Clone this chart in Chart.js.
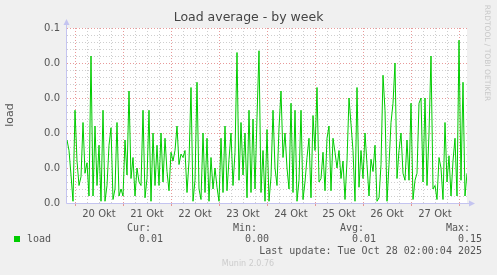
<!DOCTYPE html>
<html>
<head>
<meta charset="utf-8">
<script src="https://cdn.jsdelivr.net/npm/chart.js@4.4.1/dist/chart.umd.min.js"></script>
<style>
  html, body { margin: 0; padding: 0; background: #f0f0f0; }
  #wrap { width: 497px; height: 275px; }
</style>
</head>
<body>
<div id="wrap"><canvas id="load"></canvas></div>
<script>
    "use strict";

    // hours since Sun Oct 19 20:00, one reading per hour
    var loadValues = [
        0.0180, 0.0150, 0.0080, 0.0005, 0.0265, 0.0120, 0.0050, 0.0075, 0.0230, 0.0085,
        0.0115, 0.0020, 0.0420, 0.0020, 0.0220, 0.0050, 0.0165, 0.0005, 0.0265, 0.0005,
        0.0050, 0.0165, 0.0215, 0.0010, 0.0040, 0.0230, 0.0020, 0.0040, 0.0020, 0.0180,
        0.0080, 0.0320, 0.0070, 0.0130, 0.0020, 0.0100, 0.0060, 0.0050, 0.0265, 0.0015,
        0.0070, 0.0265, 0.0005, 0.0200, 0.0050, 0.0165, 0.0050, 0.0200, 0.0060, 0.0185,
        0.0090,
        0.0035, 0.0145, 0.0120, 0.0150, 0.0220, 0.0110, 0.0140, 0.0130, 0.0150,
        0.0030, 0.0120, 0.0330, 0.0005, 0.0065, 0.0345, 0.0040, 0.0010, 0.0200, 0.0030,
        0.0185, 0.0005, 0.0130, 0.0040, 0.0100, 0.0045, 0.0005, 0.0185, 0.0030, 0.0220,
        0.0035, 0.0125, 0.0200, 0.0050, 0.0145, 0.0430, 0.0065, 0.0230, 0.0080, 0.0200,
        0.0015, 0.0265, 0.0030, 0.0240, 0.0040, 0.0245, 0.0435, 0.0030, 0.0150, 0.0005,
        0.0210,
        0.0005, 0.0075, 0.0265, 0.0100, 0.0050, 0.0215, 0.0320, 0.0130, 0.0200,
        0.0100, 0.0040, 0.0285, 0.0030, 0.0265, 0.0005, 0.0065, 0.0265, 0.0010, 0.0060,
        0.0130, 0.0185, 0.0015, 0.0250, 0.0150, 0.0330, 0.0060, 0.0070, 0.0145, 0.0035,
        0.0185, 0.0220, 0.0035, 0.0185, 0.0145, 0.0100, 0.0150, 0.0070, 0.0120, 0.0010,
        0.0120, 0.0300, 0.0225, 0.0150, 0.0005, 0.0330, 0.0045, 0.0150, 0.0070, 0.0200,
        0.0110,
        0.0020, 0.0125, 0.0090, 0.0165, 0.0005, 0.0015, 0.0110, 0.0365, 0.0265,
        0.0005, 0.0110, 0.0230, 0.0285, 0.0400, 0.0070, 0.0150, 0.0200, 0.0085, 0.0065,
        0.0180, 0.0065, 0.0285, 0.0010, 0.0065, 0.0085, 0.0285, 0.0300, 0.0060, 0.0300,
        0.0050, 0.0200, 0.0420, 0.0040, 0.0050, 0.0010, 0.0130, 0.0100, 0.0010, 0.0230,
        0.0060, 0.0135, 0.0020, 0.0120, 0.0185, 0.0020, 0.0465, 0.0065, 0.0345, 0.0020,
        0.0085
    ];

    var dayLabels = ["20 Okt", "21 Okt", "22 Okt", "23 Okt", "24 Okt", "25 Okt", "26 Okt", "27 Okt"];
    var firstMidnight = 4;      // Oct 20 00:00, in hours from the start
    var spanHours = 200;
    var yMax = 0.05;
    var yMinorStep = 0.002;
    var yMajorEvery = 5;

    var legendName = "load";
    var legendCur = "0.01";
    var legendMin = "0.00";
    var legendAvg = "0.01";
    var legendMax = "0.15";
    var lastUpdate = "Last update: Tue Oct 28 02:00:04 2025";

    var LINE = "#00cc00";
    var MAJOR = "rgba(224, 120, 120, 0.75)";
    var MINOR = "rgba(190, 190, 190, 0.75)";
    var AXIS = "#c4c4f0";
    var TEXT = "#555555";
    var SANS = "'DejaVu Sans', sans-serif";
    var MONO = "'DejaVu Sans Mono', monospace";

    var points = loadValues.map(function(v, i) {
        return { x: i, y: v };
    });

    function isMidnight(h) {
        return ((h - firstMidnight) % 24 + 24) % 24 === 0;
    }

    var muninFrame = {
        id: "muninFrame",
        beforeDraw: function(chart) {
            var ctx = chart.ctx, a = chart.chartArea;
            ctx.save();
            ctx.fillStyle = "#f0f0f0";
            ctx.fillRect(0, 0, chart.width, chart.height);
            ctx.fillStyle = "#ffffff";
            ctx.fillRect(a.left, a.top, a.right - a.left, a.bottom - a.top);
            ctx.restore();
        },
        afterDraw: function(chart) {
            var ctx = chart.ctx, a = chart.chartArea;
            ctx.save();

            // axes with arrows
            ctx.strokeStyle = AXIS;
            ctx.fillStyle = AXIS;
            ctx.lineWidth = 1;
            ctx.beginPath();
            ctx.moveTo(a.left - 0.5, a.bottom + 0.5);
            ctx.lineTo(a.left - 0.5, a.top - 4);
            ctx.moveTo(a.left - 0.5, a.bottom + 0.5);
            ctx.lineTo(a.right + 4, a.bottom + 0.5);
            ctx.stroke();
            ctx.beginPath();
            ctx.moveTo(a.left - 0.5, a.top - 9);
            ctx.lineTo(a.left - 3.5, a.top - 3);
            ctx.lineTo(a.left + 2.5, a.top - 3);
            ctx.closePath();
            ctx.fill();
            ctx.beginPath();
            ctx.moveTo(a.right + 8, a.bottom + 0.5);
            ctx.lineTo(a.right + 2, a.bottom - 2.5);
            ctx.lineTo(a.right + 2, a.bottom + 3.5);
            ctx.closePath();
            ctx.fill();

            // title
            ctx.fillStyle = "#444444";
            ctx.font = "12.5px " + SANS;
            ctx.textAlign = "center";
            ctx.textBaseline = "middle";
            ctx.fillText("Load average - by week", chart.width / 2, 18);

            // y axis title
            ctx.save();
            ctx.translate(10.5, 115);
            ctx.rotate(-Math.PI / 2);
            ctx.fillStyle = TEXT;
            ctx.font = "11px " + SANS;
            ctx.fillText("load", 0, 0);
            ctx.restore();

            // watermark on the right
            ctx.save();
            ctx.translate(487, 53);
            ctx.rotate(Math.PI / 2);
            ctx.fillStyle = "#c8c8c8";
            ctx.font = "7.5px " + SANS;
            ctx.fillText("RRDTOOL / TOBI OETIKER", 0, 0);
            ctx.restore();

            // legend
            ctx.fillStyle = LINE;
            ctx.fillRect(14, 236, 6, 6);
            ctx.fillStyle = TEXT;
            ctx.font = "10px " + MONO;
            ctx.textAlign = "left";
            ctx.fillText(legendName, 27, 239.5);
            ctx.textAlign = "right";
            ctx.fillText("Cur:", 151, 228.5);
            ctx.fillText(legendCur, 163, 239.5);
            ctx.fillText("Min:", 257, 228.5);
            ctx.fillText(legendMin, 269, 239.5);
            ctx.fillText("Avg:", 364, 228.5);
            ctx.fillText(legendAvg, 376, 239.5);
            ctx.fillText("Max:", 470, 228.5);
            ctx.fillText(legendMax, 482, 239.5);
            ctx.fillText(lastUpdate, 482, 251.5);

            ctx.fillStyle = "#cccccc";
            ctx.font = "8px " + SANS;
            ctx.textAlign = "center";
            ctx.fillText("Munin 2.0.76", 248, 264);
            ctx.restore();
        }
    };

    new Chart(document.getElementById("load"), {
        type: "line",
        data: {
            datasets: [{
                label: legendName,
                data: points,
                borderColor: LINE,
                borderWidth: 1,
                pointRadius: 0,
                tension: 0,
                fill: false
            }]
        },
        plugins: [muninFrame],
        options: {
            responsive: true,
            maintainAspectRatio: false,
            animation: false,
            events: [],
            layout: { padding: { top: 28, right: 30, left: 0, bottom: 0 } },
            plugins: {
                legend: { display: false },
                tooltip: { enabled: false },
                title: { display: false }
            },
            scales: {
                x: {
                    type: "linear",
                    min: 0,
                    max: spanHours,
                    afterFit: function(s) { s.height = 72; },
                    afterBuildTicks: function(s) {
                        var t = [];
                        for (var h = firstMidnight; h <= spanHours; h += 6) {
                            t.push({ value: h });
                        }
                        s.ticks = t;
                    },
                    border: { display: false, dash: [1, 2] },
                    grid: {
                        drawTicks: true,
                        tickLength: 3,
                        lineWidth: 1,
                        color: function(c) {
                            return c.tick && isMidnight(c.tick.value) ? MAJOR : MINOR;
                        },
                        tickColor: function(c) {
                            return c.tick && isMidnight(c.tick.value) ? MAJOR : "rgba(0,0,0,0)";
                        }
                    },
                    ticks: {
                        autoSkip: false,
                        maxRotation: 0,
                        padding: 2,
                        color: TEXT,
                        font: { family: SANS, size: 10 },
                        callback: function(v) {
                            var off = v - firstMidnight;
                            if (off % 24 !== 12) {
                                return "";
                            }
                            return dayLabels[Math.floor(off / 24)] || "";
                        }
                    }
                },
                y: {
                    min: 0,
                    max: yMax,
                    afterFit: function(s) { s.width = 67; },
                    afterBuildTicks: function(s) {
                        var t = [];
                        for (var k = 0; k * yMinorStep <= yMax + 1e-9; k++) {
                            t.push({ value: +(k * yMinorStep).toFixed(4) });
                        }
                        s.ticks = t;
                    },
                    border: { display: false, dash: [1, 2] },
                    grid: {
                        drawTicks: false,
                        lineWidth: 1,
                        color: function(c) {
                            return c.index % yMajorEvery === 0 ? MAJOR : MINOR;
                        }
                    },
                    ticks: {
                        autoSkip: false,
                        padding: 7,
                        color: TEXT,
                        font: { family: SANS, size: 10 },
                        callback: function(v, i) {
                            return i % yMajorEvery === 0 ? v.toFixed(1) : "";
                        }
                    }
                }
            }
        }
    });
</script>
</body>
</html>
